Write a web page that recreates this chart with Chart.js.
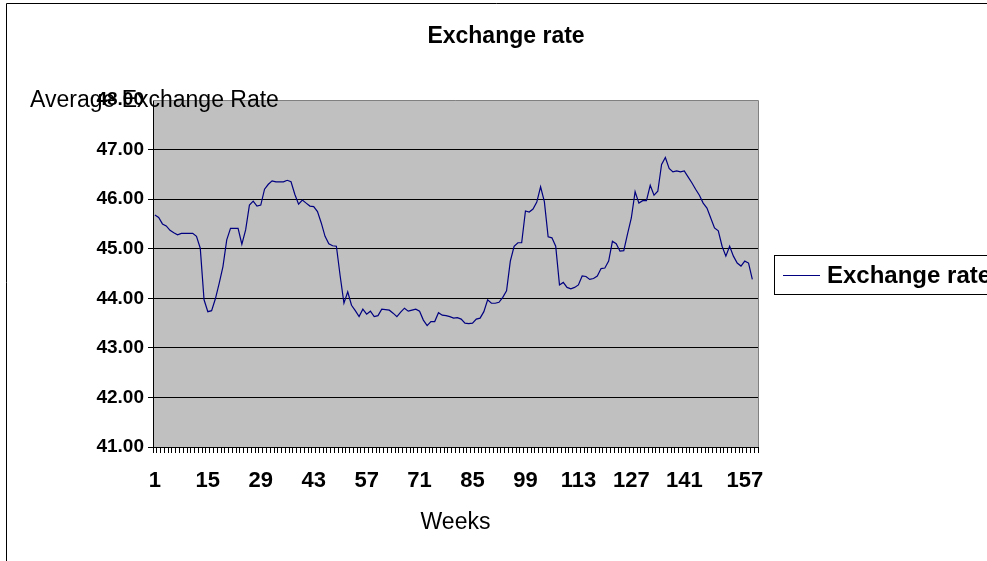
<!DOCTYPE html>
<html>
<head>
<meta charset="utf-8">
<script src="https://cdn.jsdelivr.net/npm/chart.js@4.4.1/dist/chart.umd.min.js"></script>
<style>
  html, body { margin: 0; padding: 0; background: #fff; overflow: hidden; }
  canvas { display: block; }
</style>
</head>
<body>
<canvas id="rateChart" width="987" height="561"></canvas>
<script>
// week numbers along the x axis (one slot more than there are readings)
const weeks = Array.from({ length: 160 }, (_, i) => i + 1);
const shownWeeks = [1, 15, 29, 43, 57, 71, 85, 99, 113, 127, 141, 157];

// average exchange rate per week
const rates = [
  45.68, 45.63, 45.50, 45.46, 45.37, 45.32, 45.28, 45.31, 45.31, 45.31,
  45.31, 45.25, 45.01, 43.97, 43.73, 43.75, 43.99, 44.30, 44.64, 45.18,
  45.41, 45.41, 45.41, 45.09, 45.38, 45.88, 45.96, 45.86, 45.88, 46.20,
  46.30, 46.37, 46.35, 46.35, 46.35, 46.38, 46.35, 46.10, 45.90, 45.98,
  45.92, 45.86, 45.85, 45.75, 45.52, 45.25, 45.10, 45.06, 45.05, 44.45,
  43.90, 44.13, 43.86, 43.75, 43.63, 43.78, 43.68, 43.74, 43.63, 43.65,
  43.78, 43.77, 43.76, 43.70, 43.63, 43.72, 43.80, 43.74, 43.76, 43.78,
  43.74, 43.56, 43.45, 43.53, 43.53, 43.71, 43.66, 43.65, 43.63, 43.60,
  43.61, 43.58, 43.50, 43.49, 43.50, 43.58, 43.60, 43.73, 43.97, 43.90,
  43.90, 43.92, 44.02, 44.15, 44.75, 45.05, 45.12, 45.12, 45.76, 45.74,
  45.80, 45.94, 46.25, 45.95, 45.24, 45.22, 45.05, 44.27, 44.32, 44.22,
  44.19, 44.22, 44.27, 44.45, 44.44, 44.38, 44.40, 44.45, 44.60, 44.61,
  44.75, 45.15, 45.10, 44.95, 44.96, 45.30, 45.62, 46.15, 45.92, 45.97,
  45.97, 46.28, 46.08, 46.16, 46.70, 46.84, 46.62, 46.55, 46.57, 46.55,
  46.57, 46.45, 46.33, 46.20, 46.08, 45.92, 45.82, 45.62, 45.42, 45.36,
  45.05, 44.85, 45.05, 44.85, 44.71, 44.65, 44.75, 44.71, 44.38
];

const yMin = 41;
const yMax = 48;

const lineColor = '#000080';
const fontFamily = '"Liberation Sans", Arial, sans-serif';

// plot background, frame, titles and the legend box
const decorations = {
  id: 'decorations',
  beforeDraw(chart) {
    const { ctx, chartArea: a } = chart;
    ctx.save();
    ctx.fillStyle = '#c0c0c0';
    ctx.fillRect(a.left, a.top, a.right - a.left, a.bottom - a.top);
    ctx.restore();
  },
  beforeDatasetsDraw(chart) {
    const { ctx, chartArea: a } = chart;
    ctx.save();
    ctx.strokeStyle = '#808080';
    ctx.lineWidth = 1;
    ctx.beginPath();
    ctx.moveTo(a.left, a.top + 0.5);
    ctx.lineTo(a.right + 0.5, a.top + 0.5);
    ctx.lineTo(a.right + 0.5, a.bottom);
    ctx.stroke();
    ctx.restore();
  },
  afterDraw(chart) {
    const { ctx, chartArea: a } = chart;
    ctx.save();
    // outer chart border
    ctx.strokeStyle = '#000';
    ctx.lineWidth = 1;
    ctx.beginPath();
    ctx.moveTo(6.5, 561);
    ctx.lineTo(6.5, 3.5);
    ctx.lineTo(987, 3.5);
    ctx.stroke();

    ctx.fillStyle = '#000';
    ctx.textBaseline = 'middle';

    ctx.font = 'bold 23px ' + fontFamily;
    ctx.textAlign = 'center';
    ctx.fillText('Exchange rate', 506, 37);

    ctx.font = '23px ' + fontFamily;
    ctx.textAlign = 'left';
    ctx.fillText('Average Exchange Rate', 30, 101);

    ctx.textAlign = 'center';
    ctx.fillText('Weeks', (a.left + a.right) / 2, 523);

    // legend
    ctx.strokeRect(774.5, 255.5, 240, 39);
    ctx.strokeStyle = lineColor;
    ctx.beginPath();
    ctx.moveTo(783, 275.5);
    ctx.lineTo(820, 275.5);
    ctx.stroke();
    ctx.font = 'bold 24px ' + fontFamily;
    ctx.textAlign = 'left';
    ctx.fillText('Exchange rate', 827, 276);
    ctx.restore();
  }
};

const ctx = document.getElementById('rateChart').getContext('2d');
const rateChart = new Chart(ctx, {
  type: 'line',
  data: {
    labels: weeks,
    datasets: [{
      label: 'Exchange rate',
      data: rates,
      borderColor: lineColor,
      borderWidth: 1.2,
      pointRadius: 0,
      tension: 0,
      fill: false
    }]
  },
  options: {
    responsive: false,
    animation: false,
    layout: { padding: { top: 100, right: 229, left: 0, bottom: 0 } },
    plugins: {
      legend: { display: false },
      title: { display: false },
      tooltip: { enabled: false }
    },
    scales: {
      x: {
        offset: true,
        afterFit: (scale) => { scale.height = 114; },
        border: { color: '#000' },
        grid: { offset: true, drawOnChartArea: false, tickLength: 6, color: '#000' },
        ticks: {
          autoSkip: false,
          maxRotation: 0,
          padding: 15,
          color: '#000',
          font: { family: fontFamily, size: 22, weight: 'bold' },
          callback: (value, i) => shownWeeks.includes(weeks[i]) ? String(weeks[i]) : ''
        }
      },
      y: {
        min: yMin,
        max: yMax,
        afterFit: (scale) => { scale.width = 153; },
        border: { color: '#000' },
        grid: {
          tickLength: 5,
          color: (c) => c.tick && c.tick.value === yMax ? 'rgba(0,0,0,0)' : '#000'
        },
        ticks: {
          stepSize: 1,
          padding: 4,
          color: '#000',
          font: { family: fontFamily, size: 19, weight: 'bold' },
          callback: (v) => v.toFixed(2)
        }
      }
    }
  },
  plugins: [decorations]
});
</script>
</body>
</html>
